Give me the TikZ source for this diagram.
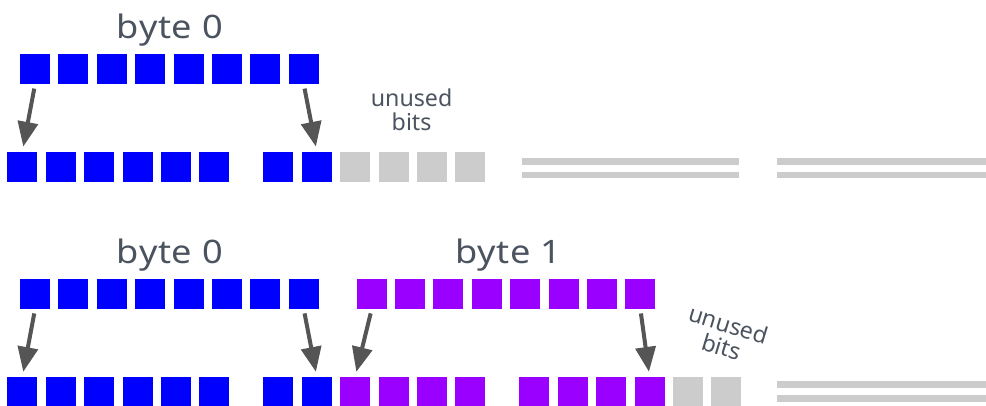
\documentclass[tikz,border=0pt]{standalone}
\usepackage{fontspec}
\setmainfont{Noto Sans}
\newfontfamily\bytefont[FakeStretch=1.12,LetterSpace=2]{Noto Sans}
\usetikzlibrary{arrows.meta}
\definecolor{bitblue}{RGB}{0,0,255}
\definecolor{bitpurple}{RGB}{153,0,255}
\definecolor{bitgray}{RGB}{204,204,204}
\definecolor{arrowgray}{RGB}{85,85,85}
\definecolor{labelgray}{RGB}{75,83,95}

\begin{document}
\begin{tikzpicture}[
  bit/.style={rectangle,minimum size=0.75cm,inner sep=0pt,draw=none},
  bluebit/.style={bit,fill=bitblue},
  purplebit/.style={bit,fill=bitpurple},
  graybit/.style={bit,fill=bitgray},
  bitarrow/.style={draw=arrowgray,line width=0.1cm,-{Triangle[length=0.62cm,width=0.5cm]},shorten <=0.1cm,shorten >=0.12cm},
  bytelabel/.style={text=labelgray,anchor=base,font=\bytefont\fontsize{23}{27}\selectfont},
  unusedlabel/.style={text=labelgray,align=center,inner sep=0pt,font=\fontsize{16.5}{16.5}\selectfont},
  padline/.style={draw=bitgray,line width=0.17cm}
]
\useasboundingbox (0,0) rectangle (24.65,10.125);

% first case: one byte
\node[bytelabel] (L0) at (4.25, 9.17) {byte 0};
\node[bluebit] (A0) at (0.875, 8.39) {};
\node[bluebit] (A1) at (1.835, 8.39) {};
\node[bluebit] (A2) at (2.795, 8.39) {};
\node[bluebit] (A3) at (3.755, 8.39) {};
\node[bluebit] (A4) at (4.715, 8.39) {};
\node[bluebit] (A5) at (5.675, 8.39) {};
\node[bluebit] (A6) at (6.635, 8.39) {};
\node[bluebit] (A7) at (7.595, 8.39) {};

\node[bluebit] (B0) at (0.56, 5.96) {};
\node[bluebit] (B1) at (1.52, 5.96) {};
\node[bluebit] (B2) at (2.48, 5.96) {};
\node[bluebit] (B3) at (3.44, 5.96) {};
\node[bluebit] (B4) at (4.40, 5.96) {};
\node[bluebit] (B5) at (5.36, 5.96) {};
\node[bluebit] (B6) at (6.96, 5.96) {};
\node[bluebit] (B7) at (7.92, 5.96) {};
\node[graybit] (B8) at (8.88, 5.96) {};
\node[graybit] (B9) at (9.84, 5.96) {};
\node[graybit] (B10) at (10.80, 5.96) {};
\node[graybit] (B11) at (11.76, 5.96) {};

\node[unusedlabel] (U0) at (10.29, 7.38) {unused\\bits};

\draw[bitarrow] (A0.south) -- (B0.north);
\draw[bitarrow] (A7.south) -- (B7.north);

\draw[padline] (13.05,6.09) -- (18.48,6.09);
\draw[padline] (13.05,5.75) -- (18.48,5.75);
\draw[padline] (19.43,6.09) -- (24.65,6.09);
\draw[padline] (19.43,5.75) -- (24.65,5.75);

% second case: two bytes
\node[bytelabel] (L1) at (4.25, 3.54) {byte 0};
\node[bytelabel] (L2) at (12.71, 3.54) {byte 1};
\node[bluebit] (C0) at (0.875, 2.77) {};
\node[bluebit] (C1) at (1.835, 2.77) {};
\node[bluebit] (C2) at (2.795, 2.77) {};
\node[bluebit] (C3) at (3.755, 2.77) {};
\node[bluebit] (C4) at (4.715, 2.77) {};
\node[bluebit] (C5) at (5.675, 2.77) {};
\node[bluebit] (C6) at (6.635, 2.77) {};
\node[bluebit] (C7) at (7.595, 2.77) {};
\node[purplebit] (D0) at (9.29, 2.77) {};
\node[purplebit] (D1) at (10.25, 2.77) {};
\node[purplebit] (D2) at (11.21, 2.77) {};
\node[purplebit] (D3) at (12.17, 2.77) {};
\node[purplebit] (D4) at (13.13, 2.77) {};
\node[purplebit] (D5) at (14.09, 2.77) {};
\node[purplebit] (D6) at (15.05, 2.77) {};
\node[purplebit] (D7) at (16.01, 2.77) {};

\node[bluebit] (E0) at (0.56, 0.33) {};
\node[bluebit] (E1) at (1.52, 0.33) {};
\node[bluebit] (E2) at (2.48, 0.33) {};
\node[bluebit] (E3) at (3.44, 0.33) {};
\node[bluebit] (E4) at (4.40, 0.33) {};
\node[bluebit] (E5) at (5.36, 0.33) {};
\node[bluebit] (E6) at (6.96, 0.33) {};
\node[bluebit] (E7) at (7.92, 0.33) {};
\node[purplebit] (E8) at (8.88, 0.33) {};
\node[purplebit] (E9) at (9.84, 0.33) {};
\node[purplebit] (E10) at (10.80, 0.33) {};
\node[purplebit] (E11) at (11.76, 0.33) {};
\node[purplebit] (E12) at (13.36, 0.33) {};
\node[purplebit] (E13) at (14.32, 0.33) {};
\node[purplebit] (E14) at (15.28, 0.33) {};
\node[purplebit] (E15) at (16.24, 0.33) {};
\node[graybit] (E16) at (17.20, 0.33) {};
\node[graybit] (E17) at (18.16, 0.33) {};

\node[unusedlabel,rotate=-17] (U1) at (18.13, 1.74) {unused\\bits};

\draw[bitarrow] (C0.south) -- (E0.north);
\draw[bitarrow] (C7.south) -- (E7.north);
\draw[bitarrow] (D0.south) -- (E8.north);
\draw[bitarrow] (D7.south) -- (E15.north);

\draw[padline] (19.43,0.505) -- (24.65,0.505);
\draw[padline] (19.43,0.165) -- (24.65,0.165);

\end{tikzpicture}
\end{document}
